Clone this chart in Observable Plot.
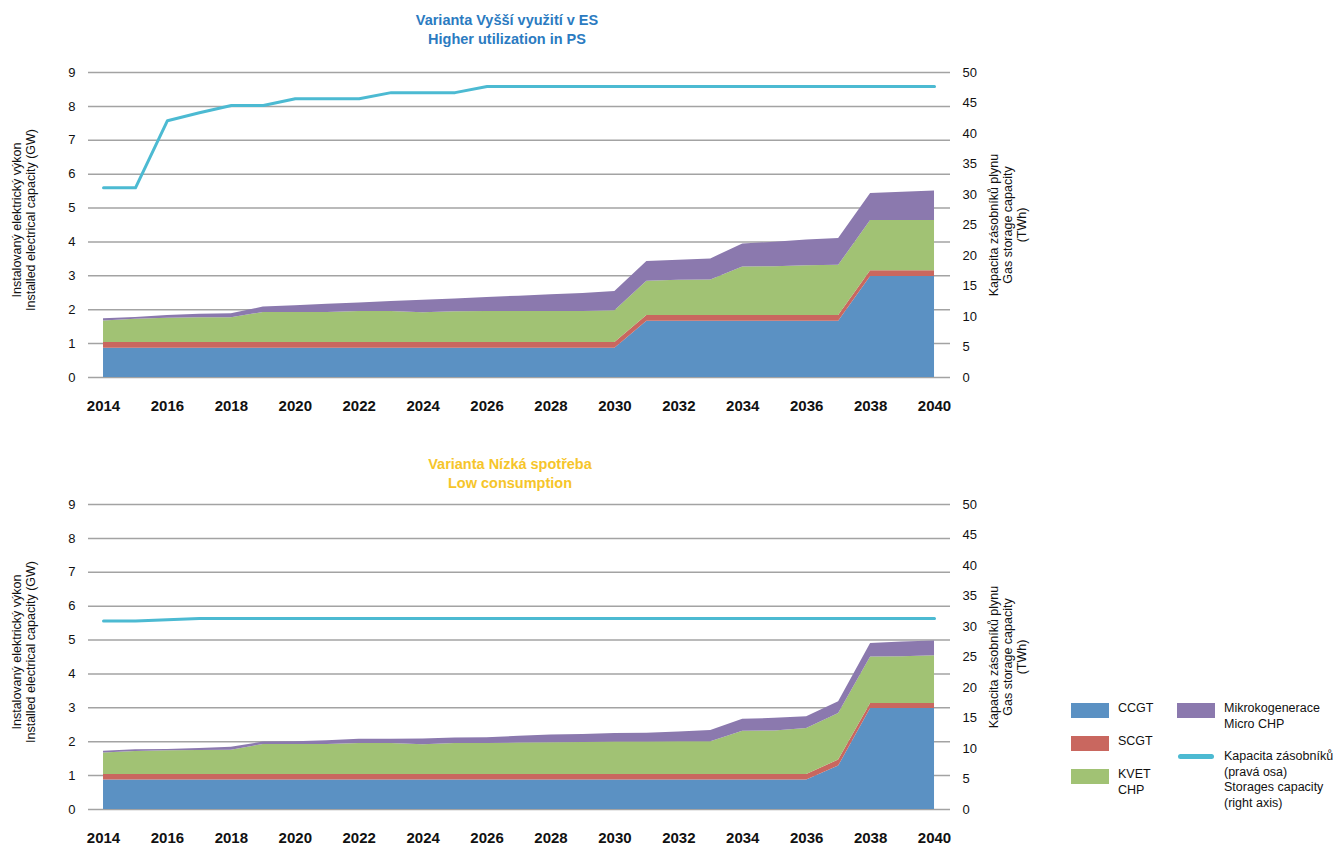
<!DOCTYPE html>
<html>
<head>
<meta charset="utf-8">
<script src="https://cdn.jsdelivr.net/npm/d3@7"></script>
<script src="https://cdn.jsdelivr.net/npm/@observablehq/plot@0.6"></script>
<style>
  html, body { margin: 0; padding: 0; background: #fff; overflow: hidden; }
  body { width: 1336px; height: 846px; position: relative; font-family: "Liberation Sans", Arial, Helvetica, sans-serif; color: #111; }
  .abs { position: absolute; }
  .title { position: absolute; font-weight: bold; font-size: 14.5px; line-height: 19px; text-align: center; transform: translateX(-50%); white-space: pre; }
  .rot { position: absolute; white-space: pre; text-align: center; font-size: 12.5px; line-height: 14px; transform: translate(-50%, -50%) rotate(-90deg); }
  .leg { position: absolute; font-size: 12.5px; line-height: 15.5px; white-space: pre; }
  .sw { position: absolute; width: 38px; height: 15px; }
</style>
</head>
<body>
<div id="root"></div>
<script>
// ---------- data ----------
const years = [2014,2015,2016,2017,2018,2019,2020,2021,2022,2023,2024,2025,2026,2027,2028,2029,2030,2031,2032,2033,2034,2035,2036,2037,2038,2039,2040];
const xTicks = [2014,2016,2018,2020,2022,2024,2026,2028,2030,2032,2034,2036,2038,2040];
const leftTicks = [0,1,2,3,4,5,6,7,8,9];
const rightTicks = [0,5,10,15,20,25,30,35,40,45,50];
const seriesNames = ["CCGT", "SCGT", "KVET", "Mikrokogenerace"];
const seriesColors = ["#5b91c3", "#c9675f", "#a1c274", "#8b79ae"];

// Varianta Vyšší využití v ES (GW)
const ccgtES  = [0.86,0.86,0.86,0.86,0.86,0.86,0.86,0.86,0.86,0.86,0.86,0.86,0.86,0.86,0.86,0.86,0.86,1.66,1.66,1.66,1.66,1.66,1.66,1.66,2.98,2.98,2.98];
const scgtES  = [0.17,0.17,0.17,0.17,0.17,0.17,0.17,0.17,0.17,0.17,0.17,0.17,0.17,0.17,0.17,0.17,0.17,0.17,0.17,0.17,0.17,0.17,0.17,0.17,0.17,0.17,0.17];
const kvetES  = [0.64,0.69,0.72,0.73,0.73,0.89,0.89,0.89,0.92,0.92,0.88,0.91,0.92,0.92,0.92,0.92,0.94,1.01,1.04,1.05,1.43,1.44,1.47,1.48,1.48,1.48,1.48];
const microES = [0.06,0.05,0.08,0.11,0.12,0.16,0.20,0.24,0.25,0.29,0.37,0.38,0.41,0.45,0.49,0.53,0.57,0.58,0.59,0.62,0.68,0.72,0.76,0.79,0.80,0.84,0.87];
const storageES = [31.1,31.1,42.1,43.4,44.6,44.6,45.7,45.7,45.7,46.7,46.7,46.7,47.7,47.7,47.7,47.7,47.7,47.7,47.7,47.7,47.7,47.7,47.7,47.7,47.7,47.7,47.7];

// Varianta Nízká spotřeba (GW)
const ccgtNS  = [0.87,0.87,0.87,0.87,0.87,0.87,0.87,0.87,0.87,0.87,0.87,0.87,0.87,0.87,0.87,0.87,0.87,0.87,0.87,0.87,0.87,0.87,0.87,1.28,2.98,2.98,2.98];
const scgtNS  = [0.16,0.16,0.16,0.16,0.16,0.16,0.16,0.16,0.16,0.16,0.16,0.16,0.16,0.16,0.16,0.16,0.16,0.16,0.16,0.16,0.16,0.16,0.16,0.18,0.15,0.15,0.15];
const kvetNS  = [0.64,0.68,0.70,0.71,0.72,0.89,0.89,0.89,0.92,0.92,0.88,0.92,0.92,0.93,0.94,0.95,0.96,0.96,0.97,0.97,1.28,1.29,1.36,1.37,1.37,1.38,1.41];
const microNS = [0.05,0.05,0.04,0.06,0.09,0.07,0.08,0.11,0.12,0.12,0.17,0.16,0.17,0.20,0.23,0.23,0.25,0.26,0.29,0.33,0.35,0.37,0.35,0.35,0.40,0.43,0.43];
const storageNS = [30.9,30.9,31.1,31.3,31.3,31.3,31.3,31.3,31.3,31.3,31.3,31.3,31.3,31.3,31.3,31.3,31.3,31.3,31.3,31.3,31.3,31.3,31.3,31.3,31.3,31.3,31.3];

// right axis (TWh 0..50) shares the frame with left axis (GW 0..9)
const k = 9 / 50;

function makeChart(ccgt, scgt, kvet, micro, storage) {
  const long = [];
  const cols = [ccgt, scgt, kvet, micro];
  seriesNames.forEach((s, si) => years.forEach((y, i) => long.push({year: y, series: s, value: cols[si][i]})));
  const line = years.map((y, i) => ({year: y, storage: storage[i]}));
  return Plot.plot({
    width: 1060,
    height: 364,
    marginLeft: 88,
    marginRight: 110,
    marginTop: 22,
    marginBottom: 37,
    style: {fontFamily: '"Liberation Sans", Arial, Helvetica, sans-serif', fontSize: "13px", color: "#111", background: "transparent"},
    x: {domain: [2013.53, 2040.5]},
    y: {domain: [0, 9]},
    color: {domain: seriesNames, range: seriesColors},
    marks: [
      Plot.ruleY(leftTicks, {stroke: "#a3a3a3", strokeWidth: 1.5}),
      Plot.areaY(long, {x: "year", y: "value", z: "series", fill: "series", order: seriesNames, curve: "linear"}),
      Plot.line(line, {x: "year", y: d => d.storage * k, stroke: "#4cbad2", strokeWidth: 3, strokeLinejoin: "round"}),
      Plot.axisX(xTicks, {tickSize: 0, tickPadding: 23, tickFormat: "d", fontWeight: "bold", fontSize: 15, label: null}),
      Plot.axisY(leftTicks, {anchor: "left", tickSize: 0, tickPadding: 13, label: null, fontSize: 13}),
      Plot.axisY(rightTicks.map(v => v * k), {anchor: "right", tickSize: 0, tickPadding: 12, tickFormat: d => String(Math.round(d / k)), label: null, fontSize: 13, textAnchor: "start"})
    ]
  });
}

const root = document.getElementById("root");

function place(el, top, left) {
  el.style.position = "absolute";
  el.style.top = top + "px";
  el.style.left = left + "px";
  root.appendChild(el);
}

function addTitle(text, color, x, top) {
  const d = document.createElement("div");
  d.className = "title";
  d.textContent = text;
  d.style.color = color;
  d.style.left = x + "px";
  d.style.top = top + "px";
  root.appendChild(d);
}

function addRot(text, cx, cy) {
  const d = document.createElement("div");
  d.className = "rot";
  d.textContent = text;
  d.style.left = cx + "px";
  d.style.top = cy + "px";
  root.appendChild(d);
}

// Chart 1
addTitle("Varianta Vyšší využití v ES\nHigher utilization in PS", "#2b7bc1", 507, 11);
place(makeChart(ccgtES, scgtES, kvetES, microES, storageES), 50, 0);
addRot("Instalovaný elektrický výkon\nInstalled electrical capacity (GW)", 24, 220);
addRot("Kapacita zásobníků plynu\nGas storage capacity\n(TWh)", 1008, 225);

// Chart 2
addTitle("Varianta Nízká spotřeba\nLow consumption", "#f6c52a", 510, 455);
place(makeChart(ccgtNS, scgtNS, kvetNS, microNS, storageNS), 482, 0);
addRot("Instalovaný elektrický výkon\nInstalled electrical capacity (GW)", 24, 652);
addRot("Kapacita zásobníků plynu\nGas storage capacity\n(TWh)", 1008, 657);

// Legend
const legendItems = [
  {label: "CCGT", color: seriesColors[0], x: 1071, y: 703},
  {label: "SCGT", color: seriesColors[1], x: 1071, y: 736},
  {label: "KVET\nCHP", color: seriesColors[2], x: 1071, y: 769},
  {label: "Mikrokogenerace\nMicro CHP", color: seriesColors[3], x: 1177, y: 703}
];
legendItems.forEach(it => {
  const s = document.createElement("div");
  s.className = "sw";
  s.style.background = it.color;
  s.style.left = it.x + "px";
  s.style.top = it.y + "px";
  root.appendChild(s);
  const t = document.createElement("div");
  t.className = "leg";
  t.textContent = it.label;
  t.style.left = (it.x + 47) + "px";
  t.style.top = (it.y - 2) + "px";
  root.appendChild(t);
});
const ln = document.createElement("div");
ln.className = "abs";
ln.style.cssText = "position:absolute;left:1178px;top:754px;width:36px;height:5px;border-radius:3px;background:#4cbad2;";
root.appendChild(ln);
const lt = document.createElement("div");
lt.className = "leg";
lt.textContent = "Kapacita zásobníků\n(pravá osa)\nStorages capacity\n(right axis)";
lt.style.left = "1224px";
lt.style.top = "749px";
root.appendChild(lt);
</script>
</body>
</html>
